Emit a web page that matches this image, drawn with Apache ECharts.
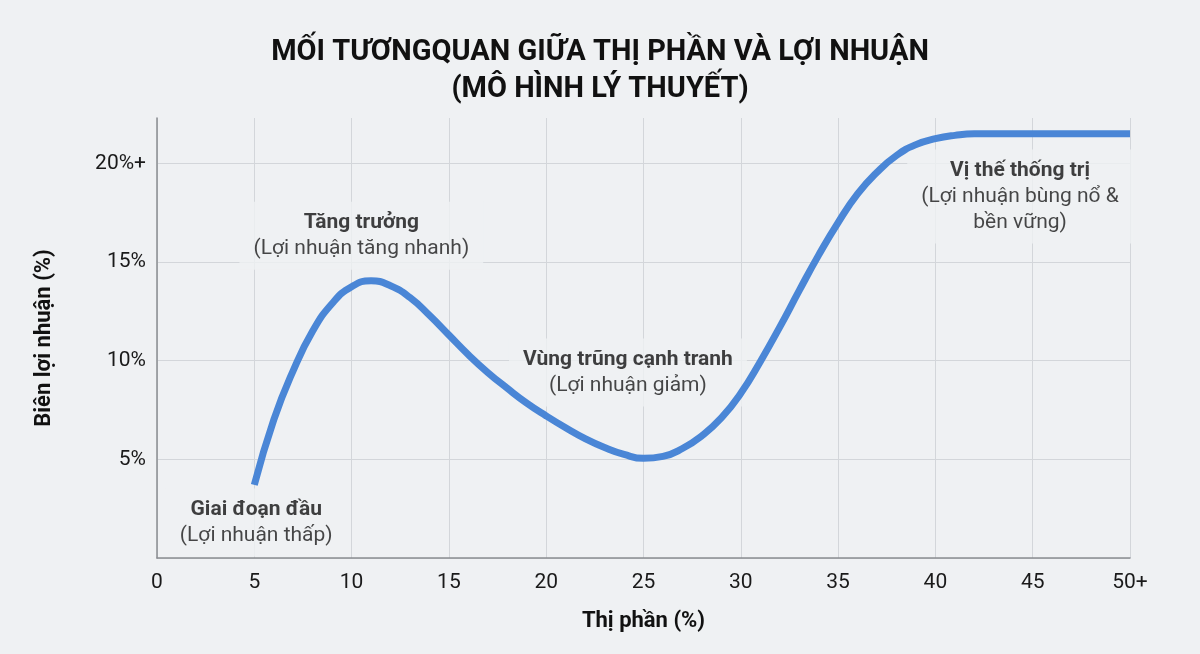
<!DOCTYPE html>
<html>
    <head>
        <meta charset="utf-8">
        <script src="https://cdn.jsdelivr.net/npm/echarts@6/dist/echarts.min.js"></script>
        <style>
            html, body, #main {
                width: 100%;
                height: 100%;
                margin: 0;
                background: #eff1f3;
            }
        </style>
    </head>
    <body>
        <div id="main"></div>
        <script>
            // thị phần (%) và biên lợi nhuận (%)
            var shareX = [5, 6, 7, 8, 9, 10, 11, 12, 13, 14, 15, 16, 17, 18, 19, 20, 21, 22, 23, 24, 25, 26, 27, 28, 29, 30, 31, 32, 33, 34, 35, 36, 37, 38, 39, 40, 41, 42, 45, 50];
            var marginY = [3.7, 7.0, 9.5, 11.5, 12.9, 13.75, 14.05, 13.8, 13.2, 12.3, 11.3, 10.3, 9.4, 8.6, 7.85, 7.2, 6.6, 6.05, 5.6, 5.25, 5.05, 5.15, 5.55, 6.2, 7.1, 8.35, 9.95, 11.7, 13.55, 15.35, 17.0, 18.45, 19.55, 20.4, 20.95, 21.25, 21.42, 21.5, 21.5, 21.5];

            var xTickLabels = { 50: '50+' };
            var yTickLabels = { 5: '5%', 10: '10%', 15: '15%', 20: '20%+' };

            // chú thích các giai đoạn: [x, y, tiêu đề, mô tả]
            var phaseNotes = [
                [5.1, 1.8, 'Giai đoạn đầu', '(Lợi nhuận thấp)'],
                [10.5, 16.33, 'Tăng trưởng', '(Lợi nhuận tăng nhanh)'],
                [24.2, 9.4, 'Vùng trũng cạnh tranh', '(Lợi nhuận giảm)'],
                [44.35, 18.32, 'Vị thế thống trị', '(Lợi nhuận bùng nổ &\nbền vững)']
            ];

            var chart = echarts.init(document.getElementById('main'));
            var font = 'Roboto, "Noto Sans", sans-serif';

            chart.setOption({
                backgroundColor: '#eff1f3',
                title: {
                    text: 'MỐI TƯƠNGQUAN GIỮA THỊ PHẦN VÀ LỢI NHUẬN\n(MÔ HÌNH LÝ THUYẾT)',
                    left: 'center',
                    top: 29,
                    textStyle: {
                        fontFamily: 'Roboto, sans-serif',
                        fontWeight: 'bold',
                        fontSize: 29,
                        lineHeight: 37,
                        color: '#111'
                    }
                },
                grid: {
                    left: 157,
                    right: 70,
                    top: 118,
                    bottom: 96
                },
                xAxis: {
                    type: 'value',
                    min: 0,
                    max: 50,
                    interval: 5,
                    name: 'Thị phần (%)',
                    nameLocation: 'middle',
                    nameGap: 52,
                    nameTextStyle: {
                        fontFamily: font,
                        fontWeight: 'bold',
                        fontSize: 22,
                        color: '#111'
                    },
                    axisLine: { lineStyle: { color: '#8a8d91', width: 1.5 } },
                    axisTick: { show: false },
                    axisLabel: {
                        margin: 14,
                        fontFamily: font,
                        fontSize: 21,
                        color: '#1a1a1a',
                        formatter: function (v) {
                            return xTickLabels[v] || String(v);
                        }
                    },
                    splitLine: {
                        show: true,
                        lineStyle: { color: '#d3d6da', width: 1 }
                    }
                },
                yAxis: {
                    type: 'value',
                    min: 0,
                    max: 22.3,
                    interval: 5,
                    name: 'Biên lợi nhuận (%)',
                    nameLocation: 'middle',
                    nameGap: 102,
                    nameTextStyle: {
                        fontFamily: font,
                        fontWeight: 'bold',
                        fontSize: 22,
                        color: '#111'
                    },
                    axisLine: { show: true, lineStyle: { color: '#8a8d91', width: 1.5 } },
                    axisTick: { show: false },
                    axisLabel: {
                        margin: 11,
                        fontFamily: font,
                        fontSize: 21,
                        color: '#1a1a1a',
                        showMaxLabel: false,
                        formatter: function (v) {
                            return yTickLabels[v] || '';
                        }
                    },
                    splitLine: {
                        show: true,
                        showMaxLine: false,
                        lineStyle: { color: '#d3d6da', width: 1 }
                    }
                },
                series: [
                    {
                        type: 'scatter',
                        symbolSize: 0,
                        silent: true,
                        data: phaseNotes.map(function (n) {
                            return { value: [n[0], n[1]], title: n[2], desc: n[3] };
                        }),
                        label: {
                            show: true,
                            position: 'inside',
                            align: 'center',
                            verticalAlign: 'middle',
                            backgroundColor: '#eff1f3',
                            padding: [8, 14],
                            formatter: function (p) {
                                return '{t|' + p.data.title + '}\n{d|' + p.data.desc.split('\n').join('}\n{d|') + '}';
                            },
                            rich: {
                                t: {
                                    fontFamily: font,
                                    fontWeight: 'bold',
                                    fontSize: 21,
                                    lineHeight: 26,
                                    color: '#111',
                                    align: 'center'
                                },
                                d: {
                                    fontFamily: font,
                                    fontSize: 21,
                                    lineHeight: 26,
                                    color: '#1a1a1a',
                                    align: 'center'
                                }
                            }
                        }
                    },
                    {
                        type: 'line',
                        data: shareX.map(function (x, i) { return [x, marginY[i]]; }),
                        smooth: 0.5,
                        showSymbol: false,
                        lineStyle: { color: '#4a86d6', width: 7 }
                    }
                ]
            });
        </script>
    </body>
</html>
